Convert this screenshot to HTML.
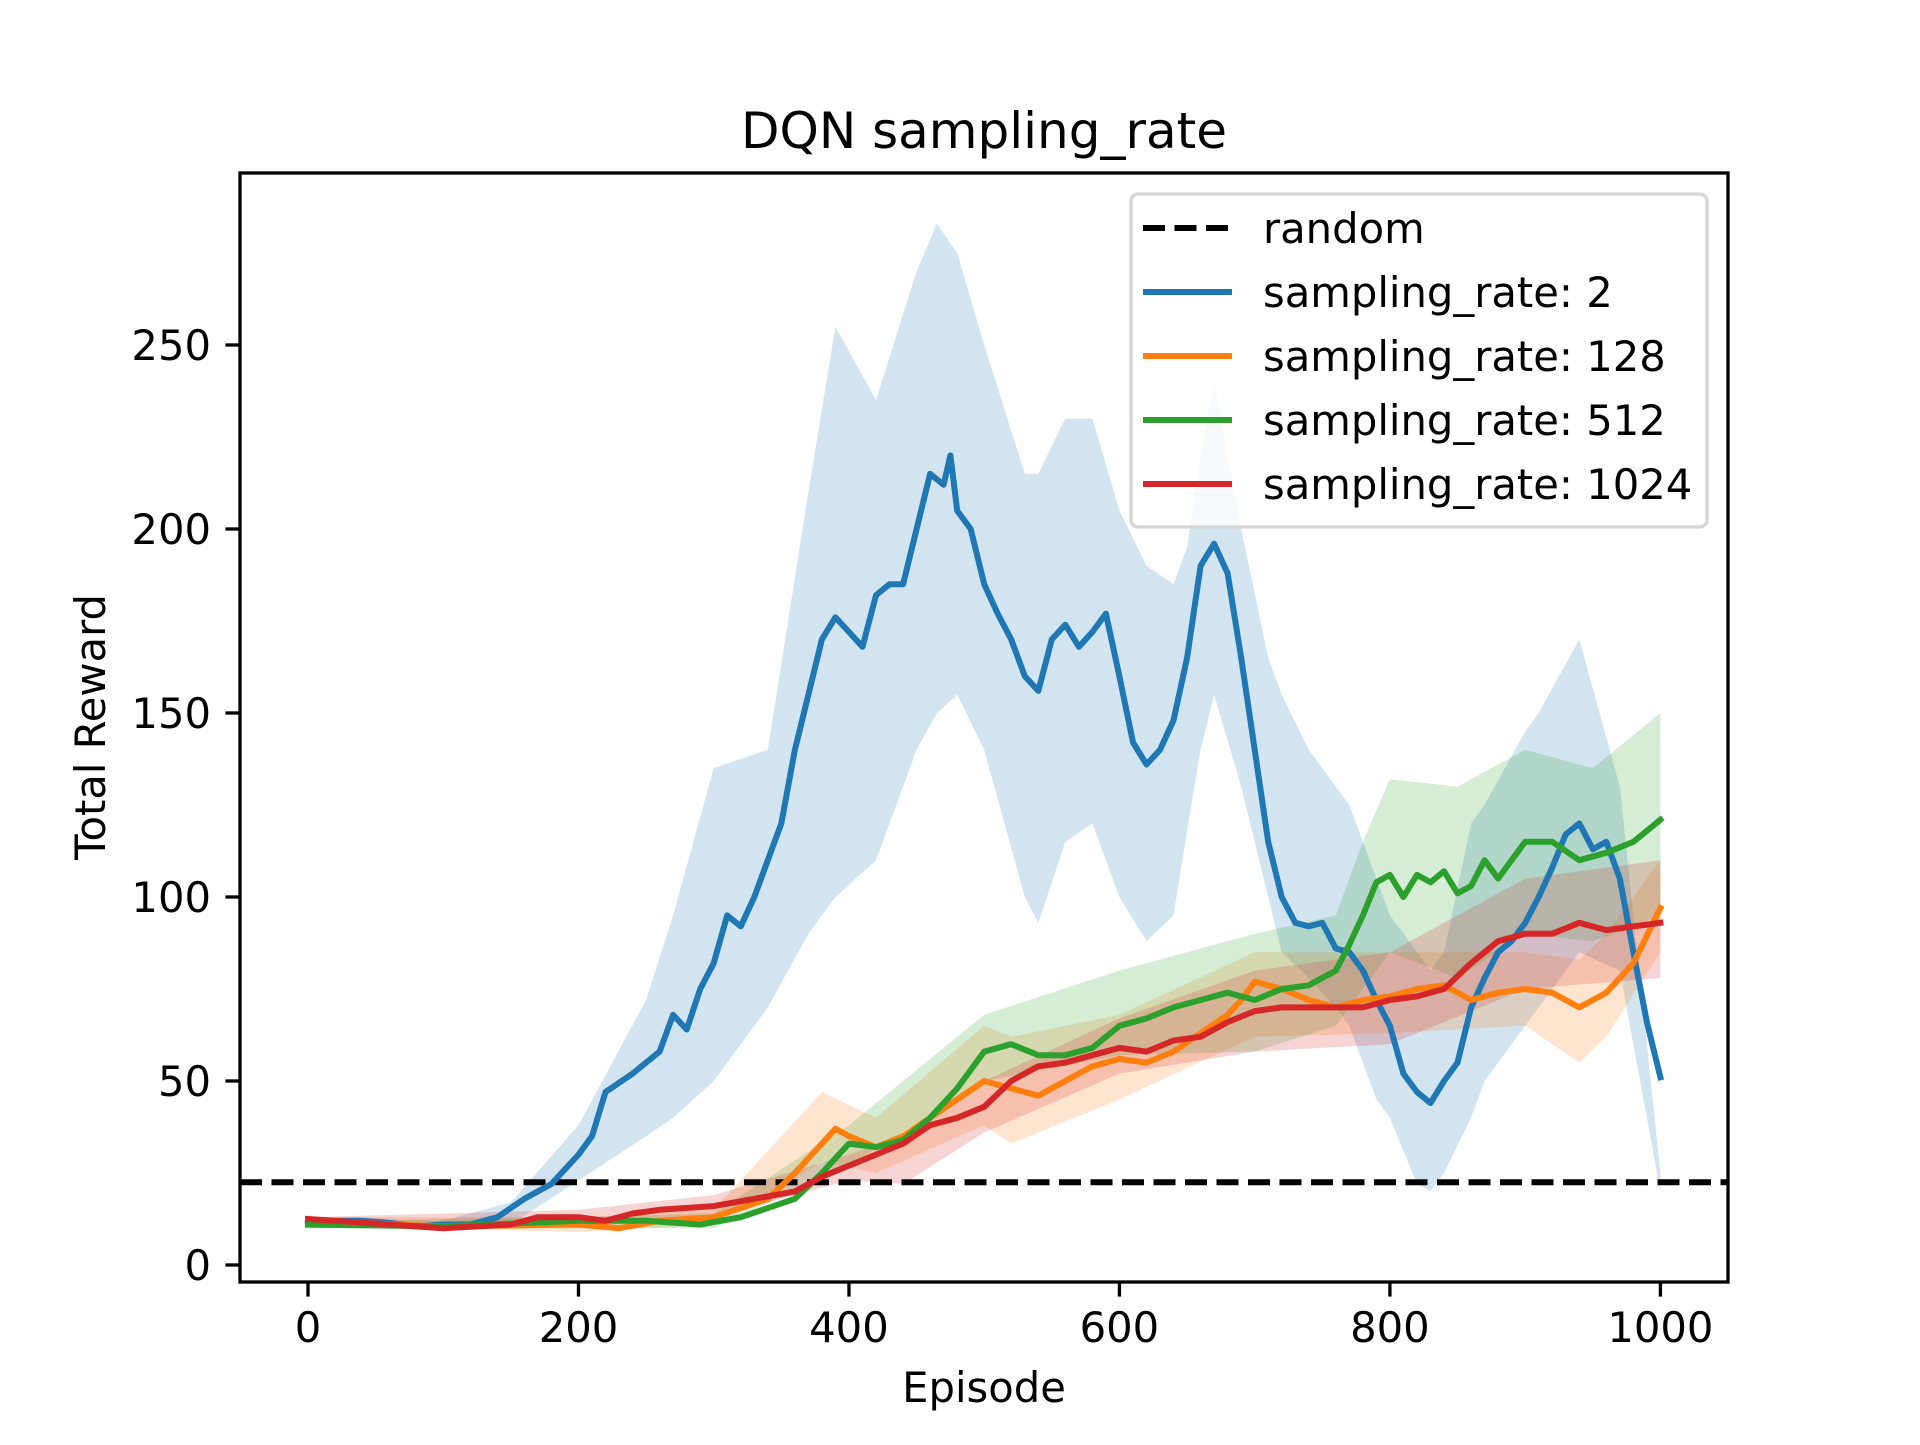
<!DOCTYPE html>
<html><head><meta charset="utf-8"><style>
html,body{margin:0;padding:0;background:#fff}
svg text{font-family:"DejaVu Sans","Liberation Sans",sans-serif;fill:#000}
</style></head><body>
<svg id="chart" width="1920" height="1440" viewBox="0 0 1920 1440" xmlns="http://www.w3.org/2000/svg">
<rect width="1920" height="1440" fill="#fff"/>
<g id="bands"></g>
<g id="lines"></g>
<g id="axes"></g>
</svg>
<script>
const xTicks=[0,200,400,600,800,1000];
const yTicks=[0,50,100,150,200,250];
const randomLevel=22.5;
const seriesNames=["sampling_rate: 2","sampling_rate: 128","sampling_rate: 512","sampling_rate: 1024"];
const seriesColors=["#1f77b4","#ff7f0e","#2ca02c","#d62728"];

const blueX=[0,20,40,60,80,100,120,140,160,180,200,210,220,240,260,270,280,290,300,310,320,330,340,350,360,370,380,390,400,410,420,430,440,450,460,470,475,480,490,500,510,520,530,540,550,560,570,580,590,600,610,620,630,640,650,660,670,680,690,700,710,720,730,740,750,760,770,780,790,800,810,820,830,840,850,860,870,880,890,900,910,920,930,940,950,960,970,980,990,1000];
const blueY=[11,12,12,11.5,10.5,11,11,13,18,22,30,35,47,52,58,68,64,75,82,95,92,100,110,120,140,155,170,176,172,168,182,185,185,200,215,212,220,205,200,185,177,170,160,156,170,174,168,172,177,160,142,136,140,148,165,190,196,188,165,140,115,100,93,92,93,86,85,80,72,65,52,47,44,50,55,70,78,85,88,93,100,108,117,120,113,115,105,85,66,51];
const blueBandX=[0,100,150,200,250,270,300,340,370,390,420,450,465,480,500,530,540,560,580,600,620,640,650,660,670,690,710,720,740,760,770,790,800,820,830,840,860,870,900,910,940,970,1000];
const blueUpper=[12,12,17,38,72,95,135,140,210,255,235,270,283,275,250,215,215,230,230,205,190,185,195,220,240,200,165,155,140,130,125,105,95,85,80,85,120,125,145,150,170,130,25];
const blueLower=[10,10,11,23,35,40,50,70,90,100,110,140,150,155,140,100,93,115,120,100,88,95,118,140,155,130,100,85,78,70,65,45,40,22,20,25,40,50,65,70,85,80,20];

const orangeX=[0,100,200,230,260,300,340,360,380,390,400,420,440,460,480,500,520,540,560,580,600,620,640,660,680,690,700,720,740,760,780,800,820,840,860,880,900,920,940,960,980,1000];
const orangeY=[12,10.5,11,10,12,13,18,25,33,37,35,32,35,40,45,50,48,46,50,54,56,55,58,63,68,72,77,75,72,70,72,73,75,76,72,74,75,74,70,74,82,97];
const orangeBandX=[0,200,300,380,420,500,520,600,700,800,900,940,960,1000];
const orangeUpper=[13,13,15,47,40,65,62,68,85,85,85,83,90,110];
const orangeLower=[11,9,11,28,25,38,33,45,62,63,65,55,62,85];

const greenX=[0,100,200,250,290,320,360,380,400,420,440,460,480,500,520,540,560,580,600,620,640,660,680,700,720,740,760,770,780,790,800,810,820,830,840,850,860,870,880,890,900,920,940,960,980,1000];
const greenY=[11,10.5,12,12,11,13,18,25,33,32,34,40,48,58,60,57,57,59,65,67,70,72,74,72,75,76,80,87,95,104,106,100,106,104,107,101,103,110,105,110,115,115,110,112,115,121];
const greenBandX=[0,200,300,400,500,600,700,760,780,800,850,900,950,1000];
const greenUpper=[12,13,14,38,68,80,90,95,115,132,130,140,135,150];
const greenLower=[10,10,10,27,50,57,58,65,75,85,78,90,88,95];

const redX=[0,100,150,170,200,220,240,260,300,330,360,380,400,420,440,460,480,500,520,540,560,580,600,620,640,660,680,700,720,740,760,780,800,820,840,860,880,900,920,940,960,980,1000];
const redY=[12.5,10,11,13,13,12,14,15,16,18,20,24,27,30,33,38,40,43,50,54,55,57,59,58,61,62,66,69,70,70,70,70,72,73,75,82,88,90,90,93,91,92,93];
const redBandX=[0,200,300,400,440,500,600,700,800,900,1000];
const redUpper=[13,15,19,30,35,50,67,80,85,105,110];
const redLower=[12,11,13,23,22,36,52,58,60,75,78];

const L=240,R=1728,T=173,B=1282;
function sx(v){return 308+(v-0)*(1660.4-308)/1000;}
function sy(v){return 1265-(v-0)*(1265-345)/250;}
const NS="http://www.w3.org/2000/svg";
function mk(tag,parent,attrs){const e=document.createElementNS(NS,tag);for(const k in attrs)e.setAttribute(k,attrs[k]);parent.appendChild(e);return e;}
const bands=document.getElementById('bands'),lines=document.getElementById('lines'),axes=document.getElementById('axes');
const clip=mk('clipPath',document.getElementById('chart'),{id:'clipA'});
mk('rect',clip,{x:L,y:T,width:R-L,height:B-T});
bands.setAttribute('clip-path','url(#clipA)');lines.setAttribute('clip-path','url(#clipA)');

const bandSets=[[blueBandX,blueUpper,blueLower],[orangeBandX,orangeUpper,orangeLower],[greenBandX,greenUpper,greenLower],[redBandX,redUpper,redLower]];
const lineSets=[[blueX,blueY],[orangeX,orangeY],[greenX,greenY],[redX,redY]];
const bandNames=['band-rate-2','band-rate-128','band-rate-512','band-rate-1024'];
const lineNames=['line-rate-2','line-rate-128','line-rate-512','line-rate-1024'];
bandSets.forEach((b,i)=>{
  let d='M'+b[0].map((x,j)=>sx(x).toFixed(1)+','+sy(b[1][j]).toFixed(1)).join('L');
  for(let j=b[0].length-1;j>=0;j--)d+='L'+sx(b[0][j]).toFixed(1)+','+sy(b[2][j]).toFixed(1);
  const p=mk('path',bands,{d:d+'Z',fill:seriesColors[i],'fill-opacity':0.2});
  
  
});
const rl=mk('line',lines,{x1:L,x2:R,y1:sy(randomLevel),y2:sy(randomLevel),stroke:'#000','stroke-width':6,'stroke-dasharray':'22 9.5'});


lineSets.forEach((s,i)=>{
  const p=mk('polyline',lines,{points:s[0].map((x,j)=>sx(x).toFixed(1)+','+sy(s[1][j]).toFixed(1)).join(' '),fill:'none',stroke:seriesColors[i],'stroke-width':6,'stroke-linejoin':'round','stroke-linecap':'square'});
  
  
});
const fr=mk('rect',axes,{x:L,y:T,width:R-L,height:B-T,fill:'none',stroke:'#000','stroke-width':3.3});


xTicks.forEach(v=>{
  const x=sx(v);
  const t=mk('line',axes,{x1:x,x2:x,y1:B,y2:B+14.6,stroke:'#000','stroke-width':3.3});
  
  
  const tx=mk('text',axes,{x:x,y:1342,'font-size':41.7,'text-anchor':'middle'});
  tx.textContent=v;
  
  
});
yTicks.forEach(v=>{
  const y=sy(v);
  const t=mk('line',axes,{x1:L-14.6,x2:L,y1:y,y2:y,stroke:'#000','stroke-width':3.3});
  
  
  const tx=mk('text',axes,{x:L-29,y:y+15,'font-size':41.7,'text-anchor':'end'});
  tx.textContent=v;
  
  
});
const ttl=mk('text',axes,{x:984,y:148,'font-size':50,'text-anchor':'middle'});ttl.textContent='DQN sampling_rate';


const xl=mk('text',axes,{x:984,y:1402,'font-size':41.7,'text-anchor':'middle'});xl.textContent='Episode';


const yl=mk('text',axes,{x:0,y:0,'font-size':41.7,'text-anchor':'middle',transform:'translate(105,727) rotate(-90)'});yl.textContent='Total Reward';


const lg=mk('g',axes,{});


mk('rect',lg,{x:1131,y:194,width:576,height:333,rx:7,fill:'#fff','fill-opacity':0.8,stroke:'#d6d6d6','stroke-width':3.3});
const legLabels=['random'].concat(seriesNames);
const legColors=['#000'].concat(seriesColors);
legLabels.forEach((lab,i)=>{
  const y=228+i*64;
  const h=mk('line',lg,{x1:1143,x2:1232,y1:y,y2:y,stroke:legColors[i],'stroke-width':6});
  if(i===0)h.setAttribute('stroke-dasharray','22 9.5');
  
  
  const t=mk('text',lg,{x:1263,y:y+15,'font-size':41.7});t.textContent=lab;
  
  
});
</script>
</body></html>
